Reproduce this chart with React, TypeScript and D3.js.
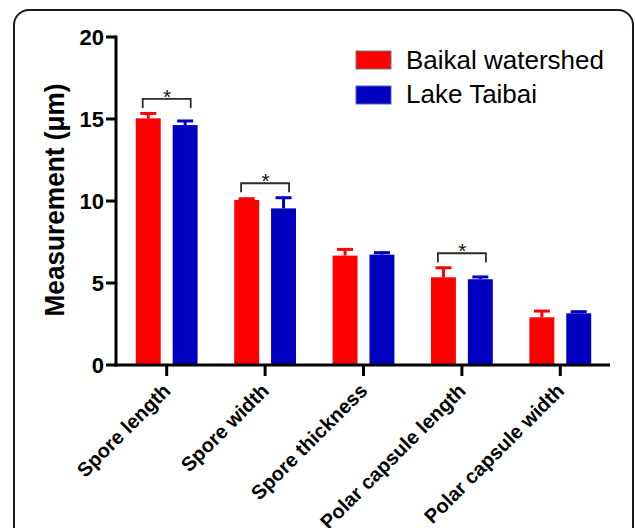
import React from "react";
import * as d3 from "d3";

const categories = ["Spore length", "Spore width", "Spore thickness", "Polar capsule length", "Polar capsule width"];
const seriesNames = ["Baikal watershed", "Lake Taibai"];
const baikalMeans = [15.04, 10.06, 6.67, 5.35, 2.91];
const baikalErr = [0.36, 0.14, 0.44, 0.64, 0.44];
const taibaiMeans = [14.63, 9.55, 6.73, 5.23, 3.15];
const taibaiErr = [0.31, 0.71, 0.18, 0.2, 0.16];
const yTicks = [0, 5, 10, 15, 20];
const significant = ["Spore length", "Spore width", "Polar capsule length"];
const colors = ["#FF0000", "#0000C0"];

const FONT = "'Liberation Sans', Arial, Helvetica, sans-serif";

export default function App() {
  const y = d3.scaleLinear().domain([0, 20]).range([365, 37]);
  const x0 = d3.scaleBand<string>().domain(categories).range([117.5, 609.5]).paddingInner(0.372).paddingOuter(0.186);
  const x1 = d3.scaleBand<string>().domain(seriesNames).range([0, x0.bandwidth()]).paddingInner(0.324);
  const means = [baikalMeans, taibaiMeans];
  const errs = [baikalErr, taibaiErr];
  const center = (c: string) => (x0(c) as number) + x0.bandwidth() / 2;

  return (
    <svg width={635} height={528} style={{ position: "absolute", left: 0, top: 0, background: "#fff" }} fontFamily={FONT}>
      <rect x={0} y={0} width={635} height={528} fill="#fff" />
      {/* frame */}
      <rect x={14} y={10} width={619} height={560} rx={15} ry={15} fill="none" stroke="#1a1a1a" strokeWidth={2} />

      {/* bars */}
      {categories.map((c, i) =>
        seriesNames.map((s, j) => {
          const bx = (x0(c) as number) + (x1(s) as number);
          const bw = x1.bandwidth();
          const v = means[j][i];
          const top = y(v + errs[j][i]);
          const cx = bx + bw / 2;
          return (
            <g key={c + s}>
              <rect x={bx} y={y(v)} width={bw} height={y(0) - y(v)} fill={colors[j]} />
              <line x1={cx} x2={cx} y1={y(v)} y2={top} stroke={colors[j]} strokeWidth={3} />
              <line x1={cx - 8} x2={cx + 8} y1={top + 1} y2={top + 1} stroke={colors[j]} strokeWidth={3} />
            </g>
          );
        })
      )}

      {/* significance brackets */}
      {categories.map((c, i) => {
        if (!significant.includes(c)) return null;
        const mx = Math.max(baikalMeans[i] + baikalErr[i], taibaiMeans[i] + taibaiErr[i]);
        const topY = y(mx) - 13.5;
        const cx = center(c);
        return (
          <g key={"sig" + c}>
            <path
              d={`M${cx - 24},${topY + 9}V${topY}H${cx + 24}V${topY + 9}`}
              fill="none"
              stroke="#2a2a2a"
              strokeWidth={1.8}
            />
            <text x={cx + 0.5} y={topY + 5} textAnchor="middle" fontSize={21} fill="#111">
              *
            </text>
          </g>
        );
      })}

      {/* y axis */}
      <line x1={116} x2={116} y1={y(20) - 1.5} y2={y(0) + 1.5} stroke="#000" strokeWidth={3} />
      {yTicks.map((t) => (
        <g key={"yt" + t}>
          <line x1={106} x2={116} y1={y(t)} y2={y(t)} stroke="#000" strokeWidth={3} />
          <text x={104} y={y(t) + 8} textAnchor="end" fontSize={22} fontWeight="bold" fill="#000">
            {t}
          </text>
        </g>
      ))}
      <text
        transform={`translate(64,200) rotate(-90) scale(0.92,1)`}
        textAnchor="middle"
        fontSize={28.5}
        fontWeight="bold"
        fill="#000"
      >
        Measurement (μm)
      </text>

      {/* x axis */}
      <line x1={114.5} x2={610} y1={y(0)} y2={y(0)} stroke="#000" strokeWidth={3} />
      {categories.map((c) => {
        const cx = center(c);
        return (
          <g key={"xt" + c}>
            <line x1={cx} x2={cx} y1={y(0)} y2={y(0) + 11} stroke="#000" strokeWidth={3} />
            <text
              transform={`translate(${cx + 5},${392}) rotate(-45)`}
              textAnchor="end"
              fontSize={20}
              fontWeight="bold"
              fill="#000"
            >
              {c}
            </text>
          </g>
        );
      })}

      {/* legend */}
      {seriesNames.map((s, j) => (
        <g key={"lg" + s}>
          <rect
            x={356}
            y={51 + j * 35}
            width={35}
            height={18}
            fill={colors[j]}
            stroke={j === 0 ? "#777" : "#5a5ad8"}
            strokeWidth={1}
          />
          <text x={406} y={68.5 + j * 34.5} fontSize={26} fill="#000">
            {s}
          </text>
        </g>
      ))}
    </svg>
  );
}
